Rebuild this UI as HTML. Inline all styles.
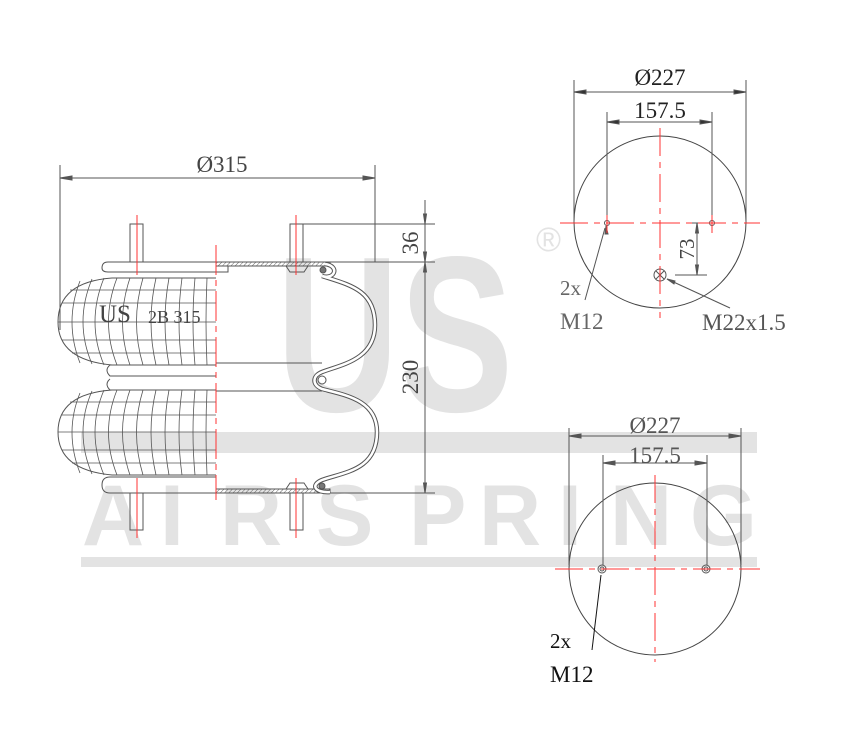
<!DOCTYPE html>
<html><head><meta charset="utf-8"><style>
html,body{margin:0;padding:0;background:#fff;}
svg{display:block;}
.s{font-family:"Liberation Serif",serif;}
.w{font-family:"Liberation Sans",sans-serif;font-weight:bold;}
</style></head><body>
<svg width="850" height="750" viewBox="0 0 850 750" xmlns="http://www.w3.org/2000/svg">
<defs>
<pattern id="h" width="3" height="3" patternUnits="userSpaceOnUse" patternTransform="rotate(45)"><line x1="0" y1="0" x2="0" y2="3" stroke="#666" stroke-width="1"/></pattern>
</defs>
<!-- watermark -->
<g fill="#e3e3e3">
<text class="w" x="0" y="0" font-size="222" transform="translate(276,411) scale(0.77,1)">US</text>
<rect x="81" y="432" width="676" height="21"/>
<rect x="81" y="557" width="676" height="10"/>
<g font-size="86" transform="translate(0,545)">
<text class="w" x="82" y="0">A</text>
<text class="w" x="160" y="0">I</text>
<text class="w" x="220" y="0">R</text>
<text class="w" x="316" y="0">S</text>
<text class="w" x="409" y="0">P</text>
<text class="w" x="479" y="0">R</text>
<text class="w" x="558" y="0">I</text>
<text class="w" x="610" y="0">N</text>
<text class="w" x="690" y="0">G</text>
</g>
<text class="w" x="536" y="251" font-size="34" style="font-weight:normal">®</text>
</g>

<g stroke="#555" stroke-width="1" fill="none">
<line x1="60" y1="165" x2="60" y2="330"/><line x1="375" y1="165" x2="375" y2="262"/>
<line x1="60" y1="178" x2="375" y2="178"/>
<path d="M60,178 l12,-2 v4z M375,178 l-12,-2 v4z" fill="#555"/>
<rect x="130" y="224" width="13" height="38"/><rect x="290" y="224" width="13" height="38"/>
<rect x="130" y="493" width="13" height="37"/><rect x="290" y="493" width="13" height="37"/>
<path d="M216,262 H108 Q102,262 102,268 Q102,272 108,272 H216"/>
<rect x="216" y="262" width="114" height="4" fill="url(#h)"/>
<rect x="216" y="266" width="12" height="6"/>
<path d="M286,266 L290,272 H304 L308,266"/>
<path d="M216,477 H110 Q102,477 102,485 Q102,493 110,493 H216"/>
<rect x="216" y="489" width="114" height="4" fill="url(#h)"/>
<path d="M286,489 L290,483 H304 L308,489"/>
<path d="M216,278 H112 Q58,282 58,322 Q58,360 112,365 H216"/>
<path d="M216,365 H110 Q104,370 110,376 H216 M110,379 Q104,384 110,390 H216"/>
<path d="M216,390 H112 Q58,394 58,432 Q58,470 112,475 H216"/>
<g stroke-width="0.8">
<path d="M70,290 H216 M62,303 H216 M58,322 H216 M62,340 H216 M72,353 H216"/>
<path d="M80,281 Q64,322 80,363 M92,279 Q74,322 92,364 M104,278 Q86,322 104,365 M117,278 Q100,322 117,365 M130,278 Q115,322 130,365 M143,278 Q130,322 143,365 M156,278 Q146,322 156,365 M169,278 Q161,322 169,365 M182,278 Q176,322 182,365 M195,278 Q191,322 195,365 M207,278 Q205,322 207,365"/>
<path d="M70,402 H216 M62,415 H216 M58,432 H216 M62,450 H216 M72,463 H216"/>
<path d="M80,393 Q64,432 80,473 M92,391 Q74,432 92,474 M104,390 Q86,432 104,475 M117,390 Q100,432 117,475 M130,390 Q115,432 130,475 M143,390 Q130,432 143,475 M156,390 Q146,432 156,475 M169,390 Q161,432 169,475 M182,390 Q176,432 182,475 M195,390 Q191,432 195,475 M207,390 Q205,432 207,475"/>
</g>
<line x1="216" y1="363" x2="322" y2="363"/><line x1="216" y1="391" x2="322" y2="391"/>
<path d="M325,264 C340,266 335,280 322,276 C350,285 375,290 375,325 C375,360 340,365 322,372 C312,376 312,385 322,389 C345,395 377,400 377,432 C377,470 345,472 322,480 C310,485 315,493 330,492" stroke-width="4.5" stroke="#555"/>
<path d="M325,264 C340,266 335,280 322,276 C350,285 375,290 375,325 C375,360 340,365 322,372 C312,376 312,385 322,389 C345,395 377,400 377,432 C377,470 345,472 322,480 C310,485 315,493 330,492" stroke-width="2.5" stroke="#fff"/>
<circle cx="323" cy="270" r="3" fill="#777"/><circle cx="322" cy="380" r="4"/><circle cx="322" cy="486" r="3" fill="#777"/>
<line x1="302" y1="224" x2="435" y2="224"/><line x1="330" y1="262" x2="435" y2="262"/><line x1="330" y1="493" x2="435" y2="493"/>
<line x1="425" y1="200" x2="425" y2="493"/>
<path d="M425,224 l-1.5,-10 h3z M425,262 l-1.5,10 h3z M425,262 l-1.5,-10 h3z M425,493 l-1.5,-10 h3z" fill="#555"/>

<circle cx="660" cy="222" r="86" stroke="#444"/>
<line x1="574" y1="80" x2="574" y2="222"/><line x1="746" y1="80" x2="746" y2="222"/>
<line x1="574" y1="92" x2="746" y2="92"/>
<path d="M574,92 l12,-2 v4z M746,92 l-12,-2 v4z" fill="#333"/>
<line x1="607" y1="112" x2="607" y2="222"/><line x1="712" y1="112" x2="712" y2="222"/>
<line x1="607" y1="122" x2="712" y2="122"/>
<path d="M607,122 l12,-2 v4z M712,122 l-12,-2 v4z" fill="#333"/>
<circle cx="607" cy="223" r="2.5"/><circle cx="712" cy="223" r="2.5"/>
<circle cx="660" cy="275" r="6"/><path d="M656,271 l8,8 M664,271 l-8,8"/>
<line x1="692" y1="223" x2="705" y2="223"/><line x1="675" y1="275" x2="707" y2="275"/>
<line x1="697" y1="223" x2="697" y2="275"/>
<path d="M697,223 l-1.5,10 h3z M697,275 l-1.5,-10 h3z" fill="#555"/>
<line x1="605" y1="228" x2="585" y2="300"/>
<line x1="667" y1="279" x2="730" y2="308"/>
<path d="M606,226 l-1,8 l3,0z M667,279 l8,2 l-1,3z" fill="#555"/>

<circle cx="655" cy="569" r="86" stroke="#444"/>
<line x1="569" y1="428" x2="569" y2="565"/><line x1="741" y1="428" x2="741" y2="565"/>
<line x1="569" y1="436" x2="741" y2="436"/>
<path d="M569,436 l12,-2 v4z M741,436 l-12,-2 v4z" fill="#555"/>
<line x1="603" y1="455" x2="603" y2="565"/><line x1="707" y1="455" x2="707" y2="565"/>
<line x1="603" y1="463" x2="707" y2="463"/>
<path d="M603,463 l12,-2 v4z M707,463 l-12,-2 v4z" fill="#555"/>
<circle cx="602" cy="569" r="4"/><circle cx="602" cy="569" r="2"/>
<circle cx="706" cy="569" r="4"/><circle cx="706" cy="569" r="2"/>
<line x1="601" y1="575" x2="592" y2="650" stroke="#111"/>
</g>

<g stroke="#f33" stroke-width="1" fill="none">
<line x1="216" y1="245" x2="216" y2="500" stroke-dasharray="30,5,6,5"/>
<line x1="137" y1="215" x2="137" y2="275"/><line x1="296" y1="215" x2="296" y2="275"/>
<line x1="137" y1="478" x2="137" y2="538"/><line x1="296" y1="478" x2="296" y2="538"/>
<line x1="560" y1="223" x2="760" y2="223" stroke-dasharray="28,6,6,6"/>
<line x1="660" y1="128" x2="660" y2="318" stroke-dasharray="28,6,6,6"/>
<line x1="607" y1="215" x2="607" y2="233"/><line x1="712" y1="215" x2="712" y2="233"/>
<line x1="555" y1="569" x2="760" y2="569" stroke-dasharray="28,6,6,6"/>
<line x1="655" y1="475" x2="655" y2="662" stroke-dasharray="28,6,6,6"/>
</g>

<g fill="#444">
<text class="s" x="222" y="172" font-size="23" text-anchor="middle">Ø315</text>
<text class="s" x="99" y="322" font-size="25">US</text>
<text class="s" x="148" y="323" font-size="18">2B 315</text>
<text class="s" font-size="23" text-anchor="middle" transform="translate(418,243) rotate(-90)">36</text>
<text class="s" font-size="23" text-anchor="middle" transform="translate(418,377) rotate(-90)">230</text>
<text class="s" font-size="21" text-anchor="middle" transform="translate(694,249) rotate(-90)">73</text>
<text class="s" x="660" y="85" font-size="23" text-anchor="middle" fill="#222">Ø227</text>
<text class="s" x="660" y="118" font-size="23" text-anchor="middle" fill="#222">157.5</text>
<text class="s" x="560" y="295" font-size="21" fill="#666">2x</text>
<text class="s" x="560" y="329" font-size="23" fill="#666">M12</text>
<text class="s" x="702" y="330" font-size="23" fill="#555">M22x1.5</text>
<text class="s" x="655" y="433" font-size="23" text-anchor="middle" fill="#555">Ø227</text>
<text class="s" x="655" y="463" font-size="23" text-anchor="middle" fill="#555">157.5</text>
<text class="s" x="550" y="648" font-size="21" fill="#111">2x</text>
<text class="s" x="550" y="682" font-size="23" fill="#111">M12</text>
</g>
</svg>
</body></html>
